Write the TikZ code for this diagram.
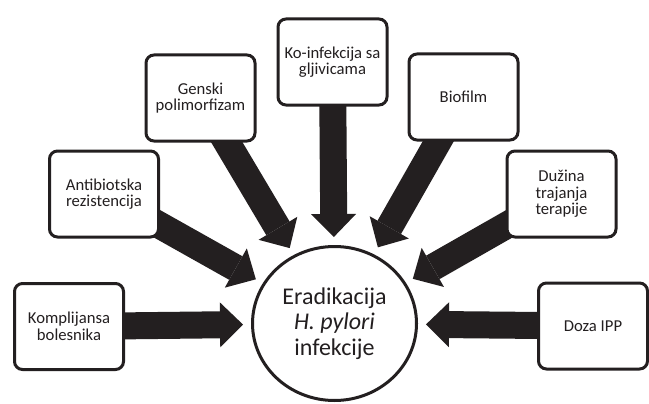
\documentclass[tikz,border=0pt]{standalone}
\usepackage{fontspec}
\setmainfont{Carlito}
\usepackage{tikz}
\usetikzlibrary{arrows.meta,shapes.geometric,backgrounds}
\usepackage{xcolor}
\definecolor{HubInk}{HTML}{231F20}

\begin{document}
\begin{tikzpicture}[x=0.75pt,y=-0.75pt,
    factor/.style={draw=HubInk,line width=2.25pt,rounded corners=6pt,fill=white,text=HubInk,
      align=center,inner sep=1pt,minimum width=81.75pt,minimum height=64.5pt,
      font=\fontsize{12.5}{12.5}\selectfont},
    hub/.style={ellipse,draw=HubInk,line width=2.25pt,fill=white,text=HubInk,align=center,
      inner sep=0pt,minimum width=123pt,minimum height=115.5pt,
      font=\fontsize{18}{19}\selectfont},
    push/.style={draw=HubInk,line width=20.25pt,shorten >=6pt,
      -{Triangle[width=33.75pt,length=17.25pt,line width=0pt]}}]
    \useasboundingbox (0,0) rectangle (649,403);
    \node[hub] (hub) at (334.5,323.5) {Eradikacija\\\textit{H. pylori}\\infekcije};
    \foreach \x/\y/\name/\label in {69/326.5/komp/{Komplijansa\\bolesnika},
      104/194/anti/{Antibiotska\\rezistencija},
      200.5/98/gen/{Genski\\polimorfizam},
      332.5/62/koinf/{Ko-infekcija sa\\gljivicama},
      463.5/97/bio/{Biofilm},
      561.5/194/duz/{Dužina\\trajanja\\terapije},
      593/326/doza/{Doza IPP}} {
     \node[factor] (\name) at (\x,\y) {\label};
    }
    \begin{scope}[on background layer]
     \foreach \name in {komp,anti,gen,koinf,bio,duz,doza}
      \draw[push] (\name.center) -- (hub);
    \end{scope}
\end{tikzpicture}
\end{document}
